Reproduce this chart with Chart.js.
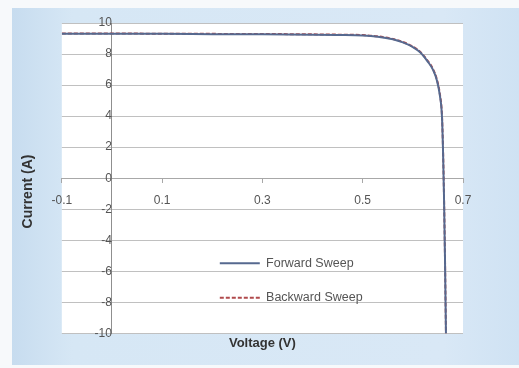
<!DOCTYPE html>
<html>
<head>
<meta charset="utf-8">
<script src="https://cdn.jsdelivr.net/npm/chart.js@4"></script>
<style>
  html, body { margin: 0; padding: 0; background: #f7f9fb; }
  #panel {
    position: absolute; left: 12px; top: 8px; right: 0; bottom: 3px;
    background: linear-gradient(to right, #c7dcef, #d6e7f5 12%, #d9e8f6 85%, #cfe2f3);
  }
  #wrap { position: absolute; left: 0; top: 0; width: 519px; height: 368px; }
</style>
</head>
<body>
<div id="panel"></div>
<div id="wrap"><canvas id="chart-canvas"></canvas></div>
<script>
"use strict";

// voltage (V) and current (A)
let forwardV = [-0.1, 0, 0.1, 0.2, 0.3, 0.4, 0.45, 0.5, 0.53, 0.56, 0.58, 0.6, 0.615, 0.63, 0.64, 0.648, 0.654, 0.658, 0.66, 0.662, 0.664, 0.666];
let forwardI = [9.3, 9.3, 9.3, 9.28, 9.27, 9.25, 9.23, 9.2, 9.12, 8.95, 8.75, 8.45, 8.1, 7.5, 7.0, 6.3, 5.3, 4.0, 2.0, -1.0, -5.0, -10];

let backwardV = [-0.1, 0, 0.1, 0.2, 0.3, 0.4, 0.45, 0.5, 0.53, 0.56, 0.58, 0.6, 0.615, 0.63, 0.64, 0.648, 0.654, 0.658, 0.66, 0.662, 0.664, 0.666];
let backwardI = [9.32, 9.32, 9.31, 9.3, 9.29, 9.27, 9.25, 9.22, 9.14, 8.97, 8.78, 8.48, 8.13, 7.55, 7.05, 6.35, 5.4, 4.1, 2.1, -0.9, -4.9, -10];

let seriesNames = ["Forward Sweep", "Backward Sweep"];
let xTicks = [-0.1, 0.1, 0.3, 0.5, 0.7];
let yTicks = [-10, -8, -6, -4, -2, 0, 2, 4, 6, 8, 10];

function toPoints(xs, ys) {
  let pts = [];
  for (let i = 0; i < xs.length; i++) {
    pts.push({ x: xs[i], y: ys[i] });
  }
  return pts;
}

// white plot area on the blue panel
let plotBg = {
  id: "plotBg",
  beforeDraw(chart) {
    let a = chart.chartArea;
    let ctx = chart.ctx;
    ctx.save();
    ctx.fillStyle = "#ffffff";
    ctx.fillRect(a.left, a.top, a.right - a.left, a.bottom - a.top);
    ctx.restore();
  }
};

// move the legend inside the plot, under the knee
let legendSpot = {
  id: "legendSpot",
  afterLayout(chart) {
    let lg = chart.legend;
    let a = chart.chartArea;
    let dx = a.left + 136 - lg.left;
    let dy = a.top + 212 - lg.top;
    lg.left += dx;
    lg.right += dx;
    lg.top += dy;
    lg.bottom += dy;
  }
};

// legend samples keep the dataset dash pattern
function makeLabels(chart) {
  let items = Chart.defaults.plugins.legend.labels.generateLabels(chart);
  for (let item of items) {
    let ds = chart.data.datasets[item.datasetIndex];
    item.lineDash = ds.borderDash || [];
    item.strokeStyle = ds.borderColor;
  }
  return items;
}

let fontFam = "'Liberation Sans', Arial, sans-serif";
let tickFont = { family: fontFam, size: 12 };

let ctx = document.getElementById("chart-canvas");
let chart = new Chart(ctx, {
  type: "scatter",
  data: {
    datasets: [
      {
        label: seriesNames[0],
        data: toPoints(forwardV, forwardI),
        showLine: true,
        borderColor: "#56698f",
        backgroundColor: "#56698f",
        borderWidth: 2,
        pointRadius: 0,
        cubicInterpolationMode: "monotone"
      },
      {
        label: seriesNames[1],
        data: toPoints(backwardV, backwardI),
        showLine: true,
        borderColor: "#b04a4c",
        backgroundColor: "#b04a4c",
        borderWidth: 2,
        borderDash: [4, 2],
        pointRadius: 0,
        cubicInterpolationMode: "monotone"
      }
    ]
  },
  options: {
    responsive: true,
    maintainAspectRatio: false,
    animation: false,
    layout: { padding: { left: 12, top: 23, right: 56, bottom: 8 } },
    scales: {
      x: {
        type: "linear",
        min: -0.1,
        max: 0.7,
        position: { y: 0 },
        afterFit(scale) { scale.height = 0; },
        afterBuildTicks(scale) { scale.ticks = xTicks.map(v => ({ value: v })); },
        grid: { drawOnChartArea: false, tickLength: 4, color: "#a8a8a8" },
        border: { color: "#a8a8a8" },
        ticks: {
          padding: 11,
          color: "#555555",
          font: tickFont,
          maxRotation: 0,
          callback: v => String(v)
        }
      },
      y: {
        type: "linear",
        min: -10,
        max: 10,
        position: { x: 0 },
        afterFit(scale) { scale.width = 0; },
        afterBuildTicks(scale) { scale.ticks = yTicks.map(v => ({ value: v })); },
        grid: { drawTicks: false, color: "#c0c0c0" },
        border: { color: "#8f8f8f" },
        ticks: { padding: 11, color: "#555555", font: tickFont }
      }
    },
    plugins: {
      title: {
        display: true,
        position: "left",
        text: "Current (A)",
        color: "#333333",
        font: { family: fontFam, size: 14, weight: "bold" },
        padding: { top: 8, bottom: 25 }
      },
      subtitle: {
        display: true,
        position: "bottom",
        fullSize: false,
        text: "Voltage (V)",
        color: "#333333",
        font: { family: fontFam, size: 13, weight: "bold" },
        padding: { top: 2, bottom: 9 }
      },
      legend: {
        position: "chartArea",
        align: "start",
        labels: {
          usePointStyle: true,
          pointStyle: "line",
          pointStyleWidth: 40,
          boxHeight: 10,
          padding: 22,
          color: "#555555",
          font: { family: fontFam, size: 12.5 },
          generateLabels: makeLabels
        }
      },
      tooltip: { enabled: false }
    }
  },
  plugins: [plotBg, legendSpot]
});
</script>
</body>
</html>
